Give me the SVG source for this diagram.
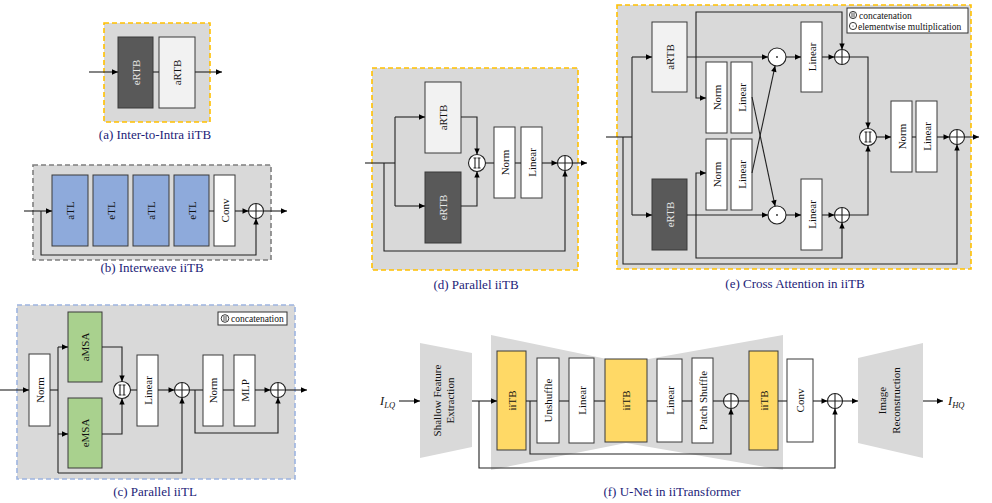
<svg xmlns="http://www.w3.org/2000/svg" width="992" height="503" viewBox="0 0 992 503">
<style>
.bg{fill:#d9d9d9}
.fy{fill:#d9d9d9;stroke:#ffc000;stroke-width:1.6;stroke-dasharray:5 3}
.fg{fill:#d9d9d9;stroke:#7f7f7f;stroke-width:1.6;stroke-dasharray:5 3}
.fb{fill:#d9d9d9;stroke:#9db4e0;stroke-width:1.6;stroke-dasharray:5 3}
.blk{stroke:#3a3a3a;stroke-width:1}
.w{fill:#ffffff}.lt{fill:#f2f2f2}.dk{fill:#595959}.bl{fill:#8eaadb}.gr{fill:#a9d18e}.yl{fill:#ffd966}
.t{font-family:"Liberation Serif","Times New Roman",serif;font-size:11px;fill:#111;text-anchor:middle;dominant-baseline:central}
.tw{fill:#e8e8e8}
.cap{font-family:"Liberation Serif","Times New Roman",serif;font-size:13px;fill:#1c1c78;text-anchor:middle}
.lg{font-family:"Liberation Serif","Times New Roman",serif;font-size:9.5px;fill:#111}
.ln{fill:none;stroke:#222;stroke-width:1.1}
.ar{marker-end:url(#ah)}
.op{fill:#fff;stroke:#222;stroke-width:1.1}
.sym{stroke:#222;stroke-width:1.1;fill:none}
</style>
<defs>
<marker id="ah" viewBox="0 0 10 10" refX="10" refY="5" markerWidth="7" markerHeight="6" orient="auto" markerUnits="userSpaceOnUse"><path d="M0,0.5 L10,5 L0,9.5 z" fill="#000"/></marker>
<g id="add"><circle r="7.5" class="op"/><path d="M-7.5,0H7.5M0,-7.5V7.5" class="sym"/></g>
<g id="cat"><circle r="8.5" class="op"/><path d="M-2,-5V5M2,-5V5M-3.5,-5H-0.5M-3.5,5H-0.5M0.5,-5H3.5M0.5,5H3.5" class="sym"/></g>
<g id="mul"><circle r="9" class="op"/><circle r="0.9" fill="#222"/></g>
</defs>

<!-- (a) -->
<g id="panel-a">
<rect x="104" y="23" width="106" height="99" class="fy"/>
<g id="a-ertb"><rect x="118" y="37" width="35" height="71" class="blk dk"/><text class="t tw" transform="translate(135.5 72.5) rotate(-90)">eRTB</text></g>
<g id="a-artb"><rect x="159" y="37" width="36" height="71" class="blk lt"/><text class="t" transform="translate(177 72.5) rotate(-90)">aRTB</text></g>
<text class="cap" x="155" y="139">(a) Inter-to-Intra iiTB</text>
</g>
<g id="conn-a">
<line x1="89" y1="72" x2="118" y2="72" class="ln ar"/>
<line x1="153" y1="72" x2="159" y2="72" class="ln"/>
<line x1="195" y1="72" x2="222" y2="72" class="ln ar"/>
</g>

<!-- (b) -->
<g id="panel-b">
<rect x="33" y="165" width="238" height="95" class="fg"/>
<g id="b-atl1"><rect x="52" y="175" width="36" height="71" class="blk bl"/><text class="t" transform="translate(70 210.5) rotate(-90)">aTL</text></g>
<g id="b-etl1"><rect x="93" y="175" width="35" height="71" class="blk bl"/><text class="t" transform="translate(110.5 210.5) rotate(-90)">eTL</text></g>
<g id="b-atl2"><rect x="133" y="175" width="36" height="71" class="blk bl"/><text class="t" transform="translate(151 210.5) rotate(-90)">aTL</text></g>
<g id="b-etl2"><rect x="174" y="175" width="35" height="71" class="blk bl"/><text class="t" transform="translate(191.5 210.5) rotate(-90)">eTL</text></g>
<g id="b-conv"><rect x="214" y="175" width="21" height="71" class="blk w"/><text class="t" transform="translate(224.5 210.5) rotate(-90)">Conv</text></g>
<g id="b-add"><use href="#add" x="256" y="211"/></g>
<text class="cap" x="152" y="272">(b) Interweave iiTB</text>
</g>
<g id="conn-b">
<line x1="24" y1="211" x2="52" y2="211" class="ln ar"/>
<line x1="209" y1="211" x2="214" y2="211" class="ln"/>
<line x1="235" y1="211" x2="248.5" y2="211" class="ln ar"/>
<line x1="263.5" y1="211" x2="287" y2="211" class="ln ar"/>
<polyline points="41,211 41,255 256,255 256,218.5" class="ln ar"/>
</g>

<!-- (c) -->
<g id="panel-c">
<rect x="17" y="305" width="278" height="174" class="fb"/>
<g id="c-legend"><rect x="218" y="312" width="69" height="13" fill="#fff" stroke="#333" stroke-width="1"/>
<circle cx="225" cy="318.5" r="3.8" fill="#fff" stroke="#222" stroke-width="0.9"/><path d="M224,316V321M226,316V321" stroke="#222" stroke-width="0.8"/>
<text class="lg" x="231" y="322">concatenation</text></g>
<g id="c-norm1"><rect x="29" y="354" width="21" height="72" class="blk w"/><text class="t" transform="translate(39.5 390) rotate(-90)">Norm</text></g>
<g id="c-amsa"><rect x="68" y="312" width="34" height="70" class="blk gr"/><text class="t" transform="translate(85 347) rotate(-90)">aMSA</text></g>
<g id="c-emsa"><rect x="68" y="398" width="34" height="70" class="blk gr"/><text class="t" transform="translate(85 433) rotate(-90)">eMSA</text></g>
<g id="c-cat"><use href="#cat" x="122" y="390"/></g>
<g id="c-linear"><rect x="137" y="355" width="21" height="71" class="blk w"/><text class="t" transform="translate(147.5 390.5) rotate(-90)">Linear</text></g>
<g id="c-add1"><use href="#add" x="182" y="390"/></g>
<g id="c-norm2"><rect x="203" y="355" width="20" height="71" class="blk w"/><text class="t" transform="translate(213 390.5) rotate(-90)">Norm</text></g>
<g id="c-mlp"><rect x="234" y="355" width="21" height="71" class="blk w"/><text class="t" transform="translate(244.5 390.5) rotate(-90)">MLP</text></g>
<g id="c-add2"><use href="#add" x="278" y="390"/></g>
<text class="cap" x="155" y="496">(c) Parallel iiTL</text>
</g>
<g id="conn-c">
<line x1="0" y1="390" x2="29" y2="390" class="ln ar"/>
<line x1="50" y1="390" x2="58" y2="390" class="ln"/>
<line x1="58" y1="347" x2="58" y2="473" class="ln"/>
<line x1="58" y1="347" x2="68" y2="347" class="ln ar"/>
<line x1="58" y1="434" x2="68" y2="434" class="ln ar"/>
<polyline points="102,347 122,347 122,381.5" class="ln ar"/>
<polyline points="102,434 122,434 122,398.5" class="ln ar"/>
<line x1="130.5" y1="390" x2="137" y2="390" class="ln"/>
<line x1="158" y1="390" x2="174.5" y2="390" class="ln ar"/>
<polyline points="58,473 182,473 182,397.5" class="ln ar"/>
<line x1="189.5" y1="390" x2="203" y2="390" class="ln"/>
<line x1="223" y1="390" x2="234" y2="390" class="ln"/>
<line x1="255" y1="390" x2="270.5" y2="390" class="ln ar"/>
<polyline points="195,390 195,433 278,433 278,397.5" class="ln ar"/>
<line x1="285.5" y1="390" x2="307" y2="390" class="ln ar"/>
</g>

<!-- (d) -->
<g id="panel-d">
<rect x="372" y="68" width="206" height="202" class="fy"/>
<g id="d-artb"><rect x="425" y="82" width="36" height="71" class="blk lt"/><text class="t" transform="translate(443 117.5) rotate(-90)">aRTB</text></g>
<g id="d-ertb"><rect x="425" y="172" width="36" height="71" class="blk dk"/><text class="t tw" transform="translate(443 207.5) rotate(-90)">eRTB</text></g>
<g id="d-cat"><use href="#cat" x="477" y="163"/></g>
<g id="d-norm"><rect x="494" y="127" width="21" height="71" class="blk w"/><text class="t" transform="translate(504.5 162.5) rotate(-90)">Norm</text></g>
<g id="d-linear"><rect x="521" y="127" width="21" height="71" class="blk w"/><text class="t" transform="translate(531.5 162.5) rotate(-90)">Linear</text></g>
<g id="d-add"><use href="#add" x="565" y="163"/></g>
<text class="cap" x="476" y="289">(d) Parallel iiTB</text>
</g>
<g id="conn-d">
<line x1="365" y1="163" x2="395" y2="163" class="ln"/>
<line x1="395" y1="117" x2="395" y2="206" class="ln"/>
<line x1="395" y1="117" x2="425" y2="117" class="ln ar"/>
<line x1="395" y1="206" x2="425" y2="206" class="ln ar"/>
<polyline points="461,117 477,117 477,154.5" class="ln ar"/>
<polyline points="461,206 477,206 477,171.5" class="ln ar"/>
<line x1="485.5" y1="163" x2="494" y2="163" class="ln"/>
<line x1="515" y1="163" x2="521" y2="163" class="ln"/>
<line x1="542" y1="163" x2="557.5" y2="163" class="ln ar"/>
<line x1="572.5" y1="163" x2="587" y2="163" class="ln ar"/>
<polyline points="384,163 384,251 565,251 565,170.5" class="ln ar"/>
</g>

<!-- (e) -->
<g id="panel-e">
<rect x="617" y="5" width="354" height="264" class="fy"/>
<g id="e-legend"><rect x="847" y="8" width="121" height="25" fill="#fff" stroke="#333" stroke-width="1"/>
<circle cx="853" cy="15" r="3.6" fill="#fff" stroke="#222" stroke-width="0.9"/><path d="M852,12.5V17.5M854,12.5V17.5" stroke="#222" stroke-width="0.8"/>
<text class="lg" x="859" y="18.5">concatenation</text>
<circle cx="853" cy="26" r="3.6" fill="#fff" stroke="#222" stroke-width="0.9"/><circle cx="853" cy="26" r="0.6" fill="#222"/>
<text class="lg" x="858" y="29.5">elementwise multiplication</text></g>
<g id="e-artb"><rect x="652" y="22" width="35" height="70" class="blk lt"/><text class="t" transform="translate(669.5 57) rotate(-90)">aRTB</text></g>
<g id="e-ertb"><rect x="652" y="179" width="35" height="71" class="blk dk"/><text class="t tw" transform="translate(669.5 214.5) rotate(-90)">eRTB</text></g>
<g id="e-norm-t"><rect x="706" y="62" width="21" height="71" class="blk w"/><text class="t" transform="translate(716.5 97.5) rotate(-90)">Norm</text></g>
<g id="e-lin-t"><rect x="731" y="62" width="21" height="71" class="blk w"/><text class="t" transform="translate(741.5 97.5) rotate(-90)">Linear</text></g>
<g id="e-norm-b"><rect x="706" y="139" width="21" height="71" class="blk w"/><text class="t" transform="translate(716.5 174.5) rotate(-90)">Norm</text></g>
<g id="e-lin-b"><rect x="731" y="139" width="21" height="71" class="blk w"/><text class="t" transform="translate(741.5 174.5) rotate(-90)">Linear</text></g>
<g id="e-mul-t"><use href="#mul" x="777" y="57"/></g>
<g id="e-mul-b"><use href="#mul" x="777" y="215"/></g>
<g id="e-lin2-t"><rect x="801" y="22" width="21" height="70" class="blk w"/><text class="t" transform="translate(811.5 57) rotate(-90)">Linear</text></g>
<g id="e-lin2-b"><rect x="801" y="179" width="21" height="71" class="blk w"/><text class="t" transform="translate(811.5 214.5) rotate(-90)">Linear</text></g>
<g id="e-add-t"><use href="#add" x="842" y="57"/></g>
<g id="e-add-b"><use href="#add" x="842" y="215"/></g>
<g id="e-cat"><use href="#cat" x="868" y="137"/></g>
<g id="e-norm"><rect x="891" y="101" width="21" height="71" class="blk w"/><text class="t" transform="translate(901.5 136.5) rotate(-90)">Norm</text></g>
<g id="e-linear"><rect x="916" y="101" width="21" height="71" class="blk w"/><text class="t" transform="translate(926.5 136.5) rotate(-90)">Linear</text></g>
<g id="e-add"><use href="#add" x="957" y="137"/></g>
<text class="cap" x="795" y="288">(e) Cross Attention in iiTB</text>
</g>
<g id="conn-e">
<line x1="606" y1="137" x2="632" y2="137" class="ln"/>
<line x1="632" y1="57" x2="632" y2="215" class="ln"/>
<line x1="632" y1="57" x2="652" y2="57" class="ln ar"/>
<line x1="632" y1="215" x2="652" y2="215" class="ln ar"/>
<line x1="687" y1="57" x2="768" y2="57" class="ln ar"/>
<polyline points="696,57 696,12 842,12 842,49.5" class="ln ar"/>
<polyline points="696,57 696,98 706,98" class="ln ar"/>
<line x1="687" y1="215" x2="768" y2="215" class="ln ar"/>
<polyline points="696,215 696,173 706,173" class="ln ar"/>
<polyline points="696,215 696,258 842,258 842,222.5" class="ln ar"/>
<line x1="752" y1="97" x2="775.1" y2="206.2" class="ln ar"/>
<line x1="752" y1="173" x2="775.1" y2="65.8" class="ln ar"/>
<line x1="786" y1="57" x2="801" y2="57" class="ln ar"/>
<line x1="786" y1="215" x2="801" y2="215" class="ln ar"/>
<line x1="822" y1="57" x2="834.5" y2="57" class="ln ar"/>
<line x1="822" y1="215" x2="834.5" y2="215" class="ln ar"/>
<polyline points="849.5,57 868,57 868,128.5" class="ln ar"/>
<polyline points="849.5,215 868,215 868,145.5" class="ln ar"/>
<line x1="876.5" y1="137" x2="891" y2="137" class="ln ar"/>
<line x1="912" y1="137" x2="916" y2="137" class="ln"/>
<line x1="937" y1="137" x2="949.5" y2="137" class="ln ar"/>
<polyline points="623,137 623,264 957,264 957,144.5" class="ln ar"/>
<line x1="964.5" y1="137" x2="979" y2="137" class="ln ar"/>
</g>

<!-- (f) -->
<g id="panel-f">
<text x="380" y="405" font-family="Liberation Serif,serif" font-size="12.5" font-style="italic" fill="#111">I<tspan font-size="8.5" dy="3">LQ</tspan></text>
<g id="f-sfe"><polygon points="420,343 472,353 472,447 420,458" class="bg"/>
<text class="t" transform="translate(436.5 400.5) rotate(-90)">Shallow Feature</text>
<text class="t" transform="translate(449.5 400.5) rotate(-90)">Extraction</text></g>
<g id="f-unet-bg"><polygon points="491,335 626,363 783,335 783,470 626,443 491,470" class="bg"/></g>
<g id="f-iitb1"><rect x="497" y="351" width="29" height="99" class="blk yl"/><text class="t" transform="translate(511.5 400.5) rotate(-90)">iiTB</text></g>
<g id="f-unshuffle"><rect x="537" y="358" width="22" height="85" class="blk w"/><text class="t" transform="translate(548 400.5) rotate(-90)">Unshuffle</text></g>
<g id="f-linear1"><rect x="569" y="358" width="25" height="85" class="blk w"/><text class="t" transform="translate(581.5 400.5) rotate(-90)">Linear</text></g>
<g id="f-iitb2"><rect x="605" y="359" width="42" height="83" class="blk yl"/><text class="t" transform="translate(626 400.5) rotate(-90)">iiTB</text></g>
<g id="f-linear2"><rect x="657" y="359" width="25" height="83" class="blk w"/><text class="t" transform="translate(669.5 400.5) rotate(-90)">Linear</text></g>
<g id="f-pshuffle"><rect x="692" y="358" width="21" height="85" class="blk w"/><text class="t" transform="translate(702.5 400.5) rotate(-90)">Patch Shuffle</text></g>
<g id="f-add1"><use href="#add" x="731" y="401"/></g>
<g id="f-iitb3"><rect x="749" y="351" width="29" height="99" class="blk yl"/><text class="t" transform="translate(763.5 400.5) rotate(-90)">iiTB</text></g>
<g id="f-conv"><rect x="787" y="359" width="26" height="83" class="blk w"/><text class="t" transform="translate(800 400.5) rotate(-90)">Conv</text></g>
<g id="f-add2"><use href="#add" x="835" y="401"/></g>
<g id="f-recon"><polygon points="858,358 923,343 923,458 858,443" class="bg"/>
<text class="t" transform="translate(882 400.5) rotate(-90)">Image</text>
<text class="t" transform="translate(896 400.5) rotate(-90)">Reconstruction</text></g>
<text x="948" y="405" font-family="Liberation Serif,serif" font-size="12.5" font-style="italic" fill="#111">I<tspan font-size="8.5" dy="3">HQ</tspan></text>
<text class="cap" x="672" y="496">(f) U-Net in iiTransformer</text>
</g>
<g id="conn-f">
<line x1="399" y1="401" x2="420" y2="401" class="ln ar"/>
<line x1="472" y1="401" x2="497" y2="401" class="ln ar"/>
<line x1="526" y1="401" x2="537" y2="401" class="ln"/>
<line x1="559" y1="401" x2="569" y2="401" class="ln"/>
<line x1="594" y1="401" x2="605" y2="401" class="ln"/>
<line x1="647" y1="401" x2="657" y2="401" class="ln"/>
<line x1="682" y1="401" x2="692" y2="401" class="ln"/>
<line x1="713" y1="401" x2="723.5" y2="401" class="ln"/>
<line x1="738.5" y1="401" x2="749" y2="401" class="ln"/>
<line x1="778" y1="401" x2="787" y2="401" class="ln"/>
<line x1="813" y1="401" x2="827.5" y2="401" class="ln ar"/>
<line x1="842.5" y1="401" x2="858" y2="401" class="ln ar"/>
<line x1="923" y1="401" x2="943" y2="401" class="ln ar"/>
<polyline points="530,401 530,454 731,454 731,408.5" class="ln ar"/>
<polyline points="479,401 479,468 835,468 835,408.5" class="ln ar"/>
</g>
</svg>
